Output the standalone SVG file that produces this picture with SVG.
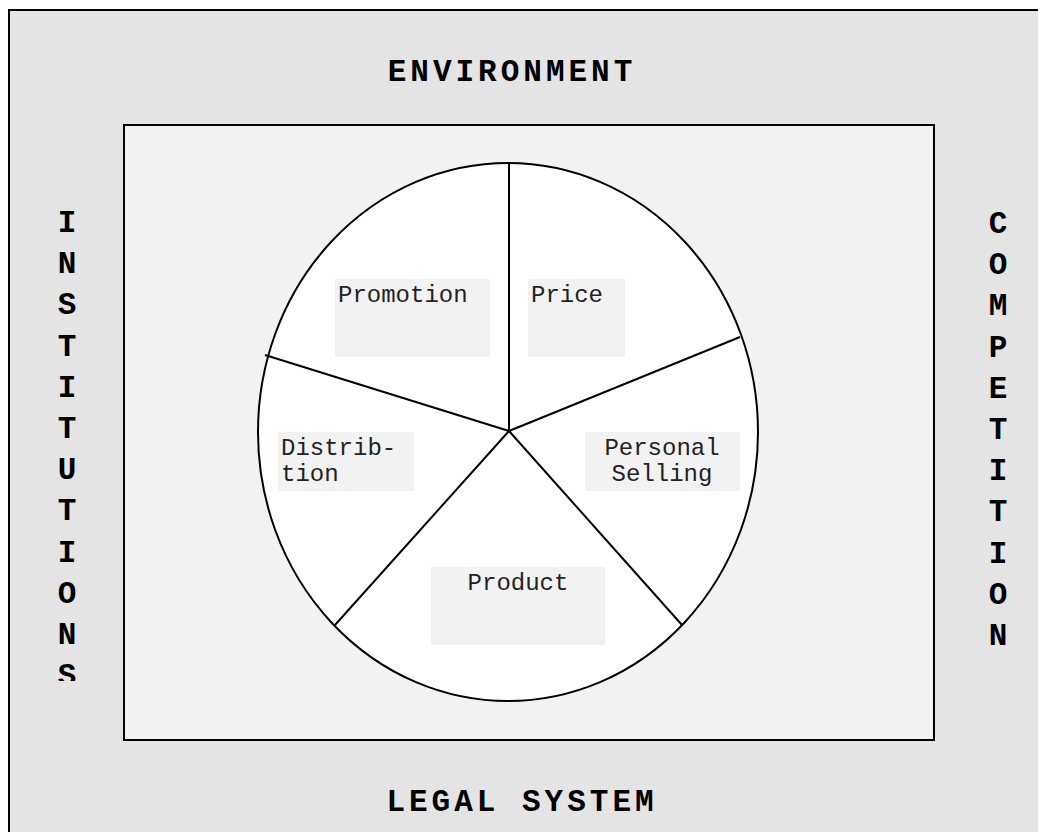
<svg xmlns="http://www.w3.org/2000/svg" width="1038" height="832" viewBox="0 0 1038 832">
<style>
.outer{font-family:"Liberation Mono","Courier New",monospace;font-weight:bold;font-size:31px;letter-spacing:4px;fill:#000}
.vert{font-family:"Liberation Mono","Courier New",monospace;font-weight:bold;font-size:31px;fill:#000;text-anchor:middle}
.lbl{font-family:"Liberation Mono","Courier New",monospace;font-size:24px;fill:#222}
.box{fill:#f2f2f2;stroke:none}
.spoke{stroke:#000;stroke-width:2;fill:none}
</style>
<defs>
<clipPath id="vclip"><rect x="0" y="190" width="1038" height="491"/></clipPath>
</defs>
<g id="environment-frame">
<rect x="9" y="10" width="1040" height="840" fill="#e4e4e4" stroke="#000" stroke-width="2"/>
<text class="outer" x="512" y="81" text-anchor="middle">ENVIRONMENT</text>
<text class="outer" x="522" y="811" text-anchor="middle">LEGAL SYSTEM</text>
</g>
<g id="institutions" clip-path="url(#vclip)">
<text class="vert" x="67" y="232">I</text>
<text class="vert" x="67" y="273">N</text>
<text class="vert" x="67" y="314">S</text>
<text class="vert" x="67" y="356">T</text>
<text class="vert" x="67" y="397">I</text>
<text class="vert" x="67" y="438">T</text>
<text class="vert" x="67" y="479">U</text>
<text class="vert" x="67" y="520">T</text>
<text class="vert" x="67" y="562">I</text>
<text class="vert" x="67" y="603">O</text>
<text class="vert" x="67" y="644">N</text>
<text class="vert" x="67" y="685">S</text>
</g>
<g id="competition">
<text class="vert" x="998" y="233">C</text>
<text class="vert" x="998" y="274">O</text>
<text class="vert" x="998" y="315">M</text>
<text class="vert" x="998" y="357">P</text>
<text class="vert" x="998" y="398">E</text>
<text class="vert" x="998" y="439">T</text>
<text class="vert" x="998" y="480">I</text>
<text class="vert" x="998" y="521">T</text>
<text class="vert" x="998" y="563">I</text>
<text class="vert" x="998" y="604">O</text>
<text class="vert" x="998" y="645">N</text>
</g>
<g id="marketing-mix">
<rect x="124" y="125" width="810" height="615" fill="#f2f2f2" stroke="#000" stroke-width="2"/>
<ellipse cx="508" cy="432" rx="250" ry="269" fill="#fff" stroke="#000" stroke-width="2"/>
</g>
<g id="connectors">
<line class="spoke" x1="509" y1="163" x2="509" y2="431"/>
<line class="spoke" x1="509" y1="431" x2="265" y2="355"/>
<line class="spoke" x1="509" y1="431" x2="740" y2="337"/>
<line class="spoke" x1="509" y1="431" x2="335" y2="625"/>
<line class="spoke" x1="509" y1="431" x2="682" y2="625"/>
</g>
<g id="promotion">
<rect class="box" x="335" y="279" width="155" height="78"/>
<text class="lbl" x="338" y="302">Promotion</text>
</g>
<g id="price">
<rect class="box" x="528" y="279" width="97" height="78"/>
<text class="lbl" x="531" y="302">Price</text>
</g>
<g id="distribution">
<rect class="box" x="278" y="432" width="136" height="59"/>
<text class="lbl" x="281" y="455">Distrib-</text>
<text class="lbl" x="281" y="481">tion</text>
</g>
<g id="personal-selling">
<rect class="box" x="585" y="432" width="155" height="59"/>
<text class="lbl" x="662" y="455" text-anchor="middle">Personal</text>
<text class="lbl" x="662" y="481" text-anchor="middle">Selling</text>
</g>
<g id="product">
<rect class="box" x="431" y="567" width="174" height="78"/>
<text class="lbl" x="518" y="590" text-anchor="middle">Product</text>
</g>
</svg>
